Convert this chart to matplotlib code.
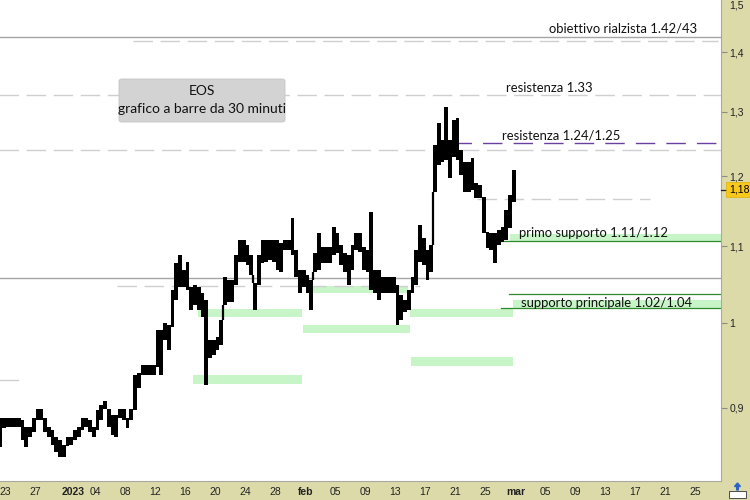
import matplotlib
matplotlib.use('Agg')
import matplotlib.pyplot as plt
import matplotlib.dates as mdates
import matplotlib.transforms as mtransforms
from matplotlib.patches import FancyBboxPatch, Rectangle, FancyArrow
from matplotlib.ticker import NullLocator
import pandas as pd
import numpy as np

plt.rcParams['lines.scale_dashes'] = False

# ---- data: 12-hour high / low ranges ----
start = '2022-12-22 00:00'
highs = [0.889, 0.889, 0.889, 0.889, 0.889, 0.889, 0.887, 0.879, 0.879, 0.889,
         0.899, 0.899, 0.889, 0.879, 0.876, 0.868, 0.865, 0.859, 0.868, 0.868,
         0.876, 0.879, 0.889, 0.889, 0.887, 0.879, 0.898, 0.903, 0.908, 0.899,
         0.892, 0.892, 0.899, 0.899, 0.889, 0.899, 0.937, 0.940, 0.949, 0.949,
         0.949, 0.949, 0.991, 0.991, 1.000, 0.998, 1.042, 1.077, 1.088, 1.068,
         1.079, 1.046, 1.048, 1.046, 1.038, 1.029, 0.979, 0.979, 0.983, 1.004,
         1.059, 1.055, 1.055, 1.088, 1.109, 1.109, 1.102, 1.088, 1.051, 1.088,
         1.109, 1.109, 1.109, 1.109, 1.109, 1.105, 1.109, 1.109, 1.139, 1.095,
         1.068, 1.068, 1.061, 1.055, 1.091, 1.118, 1.099, 1.099, 1.099, 1.127,
         1.118, 1.102, 1.091, 1.088, 1.102, 1.118, 1.118, 1.099, 1.095, 1.148,
         1.068, 1.068, 1.059, 1.059, 1.059, 1.059, 1.048, 1.035, 1.029, 1.042,
         1.059, 1.095, 1.129, 1.111, 1.095, 1.102, 1.248, 1.282, 1.255, 1.308,
         1.255, 1.287, 1.290, 1.240, 1.221, 1.221, 1.228, 1.190, 1.187, 1.169,
         1.120, 1.118, 1.118, 1.122, 1.127, 1.151, 1.172, 1.209]
lows = [0.857, 0.878, 0.879, 0.879, 0.879, 0.879, 0.865, 0.857, 0.868, 0.873,
        0.887, 0.887, 0.873, 0.868, 0.859, 0.852, 0.847, 0.847, 0.858, 0.859,
        0.865, 0.868, 0.876, 0.879, 0.873, 0.868, 0.876, 0.887, 0.899, 0.879,
        0.870, 0.868, 0.889, 0.887, 0.878, 0.887, 0.898, 0.922, 0.937, 0.937,
        0.937, 0.937, 0.947, 0.937, 0.979, 0.967, 0.995, 1.029, 1.046, 1.046,
        1.042, 1.016, 1.023, 1.016, 1.008, 0.926, 0.957, 0.961, 0.967, 0.973,
        1.023, 1.026, 1.026, 1.048, 1.079, 1.079, 1.075, 1.061, 1.016, 1.048,
        1.077, 1.079, 1.081, 1.079, 1.068, 1.065, 1.095, 1.095, 1.088, 1.059,
        1.038, 1.046, 1.038, 1.016, 1.065, 1.068, 1.077, 1.077, 1.077, 1.088,
        1.091, 1.075, 1.065, 1.048, 1.068, 1.095, 1.092, 1.068, 1.065, 1.042,
        1.038, 1.029, 1.038, 1.038, 1.038, 1.038, 0.998, 1.004, 1.014, 1.016,
        1.038, 1.048, 1.079, 1.075, 1.055, 1.065, 1.177, 1.217, 1.221, 1.225,
        1.197, 1.229, 1.225, 1.202, 1.177, 1.177, 1.180, 1.168, 1.168, 1.118,
        1.098, 1.095, 1.077, 1.102, 1.106, 1.109, 1.125, 1.162]
last_price = 1.18

tick_dates = ['2022-12-23', '2022-12-27', '2023-01-01', '2023-01-04', '2023-01-08',
              '2023-01-12', '2023-01-16', '2023-01-20', '2023-01-24', '2023-01-28',
              '2023-02-01', '2023-02-05', '2023-02-09', '2023-02-13', '2023-02-17',
              '2023-02-21', '2023-02-25', '2023-03-01', '2023-03-05', '2023-03-09',
              '2023-03-13', '2023-03-17', '2023-03-21', '2023-03-25']
tick_labels = ['23', '27', '2023', '04', '08', '12', '16', '20', '24', '28', 'feb',
               '05', '09', '13', '17', '21', '25', 'mar', '05', '09', '13', '17',
               '21', '25']
bold_labels = ['2023', 'feb', 'mar']
price_ticks = [0.9, 1.0, 1.1, 1.2, 1.3, 1.4]
price_tick_labels = ['0,9', '1', '1,1', '1,2', '1,3', '1,4']

# support / resistance zones: (low, high, start, end)
zones = [
    (1.0075, 1.0175, '2023-01-17 16:00', '2023-01-31 12:00'),
    (0.927, 0.9374, '2023-01-17 00:00', '2023-01-31 12:00'),
    (1.038, 1.047, '2023-02-02 00:00', '2023-02-14 16:00'),
    (0.9877, 0.9975, '2023-01-31 16:00', '2023-02-14 22:00'),
    (1.0075, 1.0175, '2023-02-14 22:00', '2023-02-28 16:00'),
    (0.948, 0.9586, '2023-02-15 01:30', '2023-02-28 16:00'),
    (1.106, 1.117, '2023-02-28 06:30', '2023-03-29 00:00'),
    (1.019, 1.029, '2023-02-28 16:00', '2023-03-29 00:00'),
]
# horizontal level lines: (price, start, end, kind)
levels = [
    (1.4266, '2022-12-20', '2023-03-29', 'solid_gray'),
    (1.0575, '2022-12-20', '2023-03-29', 'solid_gray'),
    (1.4195, '2023-01-09 00:00', '2023-03-28 00:00', 'dash_gray'),
    (1.327, '2022-12-20', '2023-03-29', 'dash_gray'),
    (1.239, '2022-12-20', '2023-03-29', 'dash_gray'),
    (1.1665, '2023-02-23 21:00', '2023-03-18 22:00', 'dash_gray'),
    (1.047, '2023-01-06 21:00', '2023-02-16 06:00', 'dash_gray'),
    (0.9316, '2022-12-20', '2022-12-25 08:00', 'dash_gray'),
    (1.2506, '2023-02-20 13:00', '2023-03-29', 'dash_purple'),
    (1.107, '2023-02-26 06:30', '2023-03-29', 'green'),
    (1.0367, '2023-02-28 03:00', '2023-03-29', 'green'),
    (1.0188, '2023-02-27 01:30', '2023-03-29', 'green'),
]
# annotation labels: (text, start date, price)
notes = [
    ('obiettivo rialzista 1.42/43', '2023-03-05 11:00', 1.441),
    ('resistenza 1.33', '2023-02-27 17:30', 1.339),
    ('resistenza 1.24/1.25', '2023-02-27 05:00', 1.263),
    ('primo supporto 1.11/1.12', '2023-03-01 11:00', 1.1183),
    ('supporto principale 1.02/1.04', '2023-03-01 17:30', 1.0252),
]

BEIGE = '#dcdaa9'
GREEN_FILL = '#c8f5c8'
GREEN_LINE = '#2f8a2f'
PURPLE = '#6a3fa0'
D = lambda s: mdates.date2num(pd.Timestamp(s))

fig = plt.figure(figsize=(7.5, 5), dpi=100, facecolor=BEIGE)
ax = fig.add_axes([0, 19 / 500, 721 / 750, 481 / 500])
ax.set_facecolor('white')
ax.set_yscale('log')
ax.set_ylim(0.8218, 1.4937)
ax.set_xlim(D('2022-12-22 06:24'), D('2023-03-28 09:36'))

for s in ['top', 'left']:
    ax.spines[s].set_visible(False)
for s in ['right', 'bottom']:
    ax.spines[s].set_color('#a8a8a0')
    ax.spines[s].set_linewidth(0.8)

# zones
for lo, hi, a, b in zones:
    ax.add_patch(Rectangle((D(a), lo), D(b) - D(a), hi - lo, fc=GREEN_FILL,
                           ec='none', zorder=1))

# levels
for p, a, b, kind in levels:
    xs = [D(a), D(b)]
    if kind == 'solid_gray':
        ax.plot(xs, [p, p], color='#a6a6a6', lw=1.0, zorder=2)
    elif kind == 'dash_gray':
        ax.plot(xs, [p, p], color='#cfcfcf', lw=1.0, dashes=(14, 5.5), zorder=2)
    elif kind == 'dash_purple':
        ax.plot(xs, [p, p], color=PURPLE, lw=1.0, dashes=(14, 8), zorder=2)
    elif kind == 'green':
        ax.plot(xs, [p, p], color=GREEN_LINE, lw=0.9, zorder=2)

# price bars
times = mdates.date2num(pd.date_range(start, periods=len(highs), freq='12h'))
h = np.array(highs)
l = np.array(lows)
ax.bar(times, h - l, bottom=l, width=0.5, align='edge', color='black', lw=0,
       zorder=4)
for i in range(len(h) - 1):
    xb = times[i] + 0.5
    if l[i] > h[i + 1]:
        ax.vlines(xb, h[i + 1], l[i], color='black', lw=1.6, zorder=4)
    elif h[i] < l[i + 1]:
        ax.vlines(xb, h[i], l[i + 1], color='black', lw=1.6, zorder=4)

# annotations
for txt, d, p in notes:
    ax.text(D(d), p, txt, fontfamily='Lato', fontsize=9.4, color='#111111',
            ha='left', va='center', zorder=6)

# EOS title box
box = FancyBboxPatch((119 / 750, 1 - 122 / 500), 166 / 750, 43 / 500,
                     boxstyle='round,pad=0,rounding_size=0.004',
                     transform=fig.transFigure, fc='#d3d3d3', ec='#c4c4c4',
                     lw=0.6, zorder=5)
fig.patches.append(box)
fig.text(202 / 750, 1 - 91 / 500, 'EOS', fontfamily='Lato', fontsize=10,
         ha='center', va='center', color='#111111', zorder=6)
fig.text(202 / 750, 1 - 109 / 500, 'grafico a barre da 30 minuti',
         fontfamily='Lato', fontsize=10, ha='center', va='center',
         color='#111111', zorder=6)

# y axis (right)
ax.yaxis.set_ticks_position('right')
ax.yaxis.set_minor_locator(NullLocator())
ax.set_yticks(price_ticks)
ax.set_yticklabels(price_tick_labels)
ax.tick_params(axis='y', direction='out', length=4, width=0.8,
               color='#8c8c80', labelsize=7.5, pad=2, labelcolor='#222222')
for t in ax.get_yticklabels():
    t.set_fontfamily('Liberation Sans')
bt = mtransforms.blended_transform_factory(ax.transAxes, ax.transData)
# top label of the scale, kept fully inside the picture
fig.text(1 - 21 / 750, 1 - 1 / 500, '1,5', fontsize=7.5,
         fontfamily='Liberation Sans', va='top', ha='left', color='#222222')
ax.plot([1.0, 1 + 5 / 721], [last_price, last_price], transform=bt,
        color='#222222', lw=0.9, clip_on=False, zorder=7)
ax.text(1 + 8 / 721, last_price, '1,18', transform=bt, fontsize=7.5,
        fontfamily='Liberation Sans', va='center', ha='left', clip_on=False,
        color='black', zorder=8,
        bbox=dict(boxstyle='square,pad=0.25', fc='#f8c91c', ec='#e0b000',
                  lw=0.5))

# x axis
ax.set_xticks([D(t) for t in tick_dates])
ax.set_xticklabels(tick_labels)
ax.xaxis.set_minor_locator(NullLocator())
ax.tick_params(axis='x', length=0, labelsize=7.5, pad=4, labelcolor='#222222')
for t in ax.get_xticklabels():
    t.set_fontfamily('Liberation Sans')
    if t.get_text() in bold_labels:
        t.set_fontweight('bold')

# small icon bottom-right
fig.patches.append(Rectangle((729 / 750, 2 / 500), 17 / 750, 7 / 500,
                             transform=fig.transFigure, fc='white',
                             ec='#333333', lw=0.6))
fig.patches.append(FancyArrow(737.5 / 750, 10 / 500, 0, 7 / 500,
                              width=1.6 / 750, head_width=6 / 750,
                              head_length=3.5 / 500, length_includes_head=True,
                              transform=fig.transFigure, color='#2a62c8'))

fig.savefig('out.png', dpi=100, facecolor=BEIGE)
